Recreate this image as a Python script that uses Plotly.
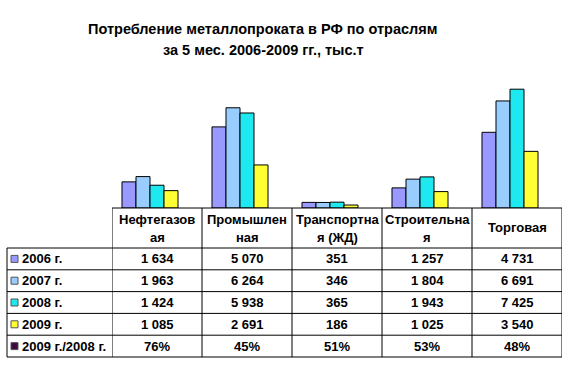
import plotly.graph_objects as go

W, H = 583, 367

categories = ["Нефтегазовая", "Промышленная", "Транспортная (ЖД)", "Строительная", "Торговая"]
header_labels = ["Нефтегазов<br>ая", "Промышлен<br>ная", "Транспортна<br>я (ЖД)", "Строительна<br>я", "Торговая"]
series_names = ["2006 г.", "2007 г.", "2008 г.", "2009 г."]
v2006 = [1634, 5070, 351, 1257, 4731]
v2007 = [1963, 6264, 346, 1804, 6691]
v2008 = [1424, 5938, 365, 1943, 7425]
v2009 = [1085, 2691, 186, 1025, 3540]
ratio_name = "2009 г./2008 г."
ratio_pct = [76, 45, 51, 53, 48]
title_lines = ["Потребление металлопроката в РФ по отраслям", "за 5 мес. 2006-2009 гг., тыс.т"]

colors = ["#9999FF", "#99CCFF", "#1EE8F0", "#FFFF33"]
ratio_color = "#3C0A3C"

series_values = [v2006, v2007, v2008, v2009]

# layout geometry (pixels)
PLOT_L, PLOT_R = 112, 562
PLOT_TOP, BASE = 80, 208
TAB_L = 7
HEAD_B = 248
ROW_H = 21.8
N_ROWS = 5


def px(x):
    return x / W


def py(y):
    return 1 - y / H


fig = go.Figure()
for name, vals, col in zip(series_names, series_values, colors):
    fig.add_trace(go.Bar(x=categories, y=vals, name=name,
                         marker=dict(color=col, line=dict(color="black", width=1))))
fig.add_trace(go.Bar(x=categories, y=[p / 100 for p in ratio_pct], name=ratio_name,
                     marker=dict(color=ratio_color, line=dict(width=0)), opacity=0))

shapes = []
annotations = []
font = dict(family="Liberation Sans, Arial", size=13, color="black")
bold = lambda s: f"<b>{s}</b>"
LINE = dict(color="black", width=1)

# header top line & row lines
shapes.append(dict(type="line", xref="paper", yref="paper", x0=px(PLOT_L), x1=px(PLOT_R),
                   y0=py(BASE), y1=py(BASE), line=LINE))
for i in range(N_ROWS + 1):
    yy = HEAD_B + i * ROW_H
    shapes.append(dict(type="line", xref="paper", yref="paper", x0=px(TAB_L), x1=px(PLOT_R),
                       y0=py(yy), y1=py(yy), line=LINE))
# vertical lines
shapes.append(dict(type="line", xref="paper", yref="paper", x0=px(TAB_L), x1=px(TAB_L),
                   y0=py(HEAD_B), y1=py(HEAD_B + N_ROWS * ROW_H), line=LINE))
for k in range(len(categories) + 1):
    shapes.append(dict(type="line", xref="x", yref="paper", x0=k - 0.5, x1=k - 0.5,
                       y0=py(BASE), y1=py(HEAD_B + N_ROWS * ROW_H), line=LINE))

# header texts
for cat, lab in zip(categories, header_labels):
    parts = lab.split("<br>")
    if len(parts) == 1:
        ys = [(BASE + HEAD_B) / 2]
    else:
        ys = [219, 237]
    for part, yy in zip(parts, ys):
        annotations.append(dict(x=cat, xref="x", y=py(yy), yref="paper",
                                text=bold(part), showarrow=False, font=font,
                                xanchor="center", yanchor="middle"))

row_names = series_names + [ratio_name]
row_colors = colors + [ratio_color]
row_texts = [[f"{v:,}".replace(",", " ") for v in vals] for vals in series_values]
row_texts.append([f"{p}%" for p in ratio_pct])

for i, (rn, rc, texts) in enumerate(zip(row_names, row_colors, row_texts)):
    yc = HEAD_B + (i + 0.5) * ROW_H
    shapes.append(dict(type="rect", xref="paper", yref="paper", x0=px(11), x1=px(18),
                       y0=py(yc + 3.5), y1=py(yc - 3.5), fillcolor=rc,
                       line=dict(color="#555555", width=1)))
    annotations.append(dict(x=px(20), xref="paper", y=py(yc), yref="paper", text=bold(rn),
                            showarrow=False, font=font, xanchor="left", yanchor="middle"))
    for cat, t in zip(categories, texts):
        annotations.append(dict(x=cat, xref="x", y=py(yc), yref="paper", text=bold(t),
                                showarrow=False, font=font, xanchor="center", yanchor="middle"))

# title
for line, yy in zip(title_lines, [29, 50]):
    annotations.append(dict(x=px(263), xref="paper", y=py(yy), yref="paper",
                            text=bold(line), showarrow=False,
                            font=dict(family="Liberation Sans, Arial", size=14.5, color="black"),
                            xanchor="center", yanchor="middle"))

fig.update_layout(
    width=W, height=H, margin=dict(l=0, r=0, t=0, b=0),
    paper_bgcolor="white", plot_bgcolor="white",
    barmode="group", bargap=0.222, bargroupgap=0,
    showlegend=False, hovermode=False,
    xaxis=dict(domain=[px(PLOT_L), px(PLOT_R)], type="category", range=[-0.5, 4.5],
               showticklabels=False, showgrid=False, zeroline=False, showline=False, ticks=""),
    yaxis=dict(domain=[py(BASE), py(PLOT_TOP)], range=[0, 8000], showticklabels=False,
               showgrid=False, zeroline=False, showline=False, ticks=""),
    shapes=shapes, annotations=annotations,
)

fig.write_html("out.html", config={"displayModeBar": False},
               post_script="document.body.style.margin='0px';")
